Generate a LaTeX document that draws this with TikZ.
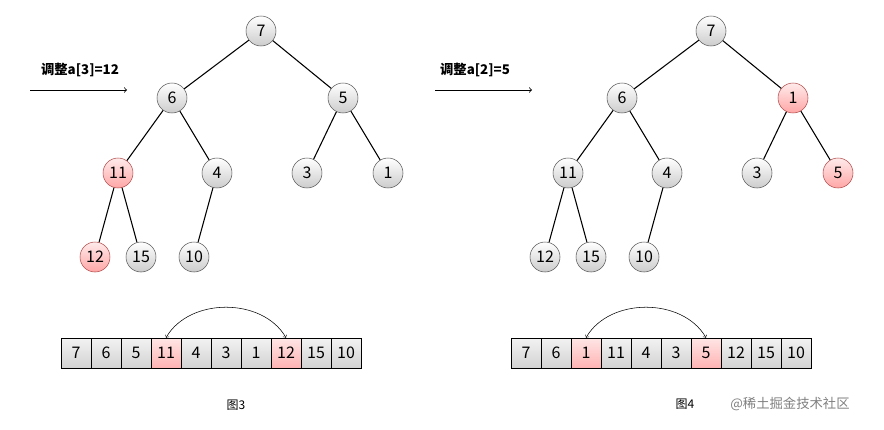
\documentclass[tikz,border=0pt]{standalone}
\usepackage{fontspec}
\setmainfont{Noto Sans CJK SC}
\usetikzlibrary{positioning}

\tikzset{
    key/.style={circle, draw=gray!70!black, top color=white, bottom color=gray!40, minimum size=30*0.75pt, inner sep=0pt, font=\large},
    hot/.style={key, top color=red!8, bottom color=red!35, draw=red!40!gray},
    cell/.style={rectangle, draw=black, top color=gray!10, bottom color=gray!35, minimum width=30*0.75pt, minimum height=30*0.75pt, inner sep=0pt, font=\large},
    hotcell/.style={cell, top color=red!10, bottom color=red!30},
    edge/.style={thick},
}

\begin{document}
\begin{tikzpicture}[x=0.75pt, y=-0.75pt]
    \useasboundingbox (0,0) rectangle (884,429);

    % tree of picture 3
    \node[key] (a7) at (261,31) {7};
    \node[key] (a6) at (172,98) {6};
    \node[key] (a5) at (343,98) {5};
    \node[hot] (a11) at (118,173) {11};
    \node[key] (a4) at (217,173) {4};
    \node[key] (a3) at (307,173) {3};
    \node[key] (a1) at (388,173) {1};
    \node[hot] (a12) at (95,257) {12};
    \node[key] (a15) at (141,257) {15};
    \node[key] (a10) at (194,257) {10};
    \foreach \p/\c in {a7/a6, a7/a5, a6/a11, a6/a4, a5/a3, a5/a1, a11/a12, a11/a15, a4/a10}
        \draw[edge] (\p) -- (\c);

    % tree of picture 4
    \node[key] (b7) at (711,31) {7};
    \node[key] (b6) at (622,98) {6};
    \node[hot] (b1) at (793,98) {1};
    \node[key] (b11) at (568,173) {11};
    \node[key] (b4) at (667,173) {4};
    \node[key] (b3) at (757,173) {3};
    \node[hot] (b5) at (838,173) {5};
    \node[key] (b12) at (545,257) {12};
    \node[key] (b15) at (591,257) {15};
    \node[key] (b10) at (644,257) {10};
    \foreach \p/\c in {b7/b6, b7/b1, b6/b11, b6/b4, b1/b3, b1/b5, b11/b12, b11/b15, b4/b10}
        \draw[edge] (\p) -- (\c);

    % arrays
    \foreach \v [count=\i] in {7,6,5,11,4,3,1,12,15,10} {
        \ifnum\i=4 \def\st{hotcell}\else\ifnum\i=8 \def\st{hotcell}\else\def\st{cell}\fi\fi
        \node[\st] (l\i) at (46+30*\i,353) {\v};
    }
    \foreach \v [count=\i] in {7,6,1,11,4,3,5,12,15,10} {
        \ifnum\i=3 \def\st{hotcell}\else\ifnum\i=7 \def\st{hotcell}\else\def\st{cell}\fi\fi
        \node[\st] (r\i) at (496+30*\i,353) {\v};
    }
    \draw[<->] (l4.north) to[out=60, in=120] (l8.north);
    \draw[<->] (r3.north) to[out=60, in=120] (r7.north);

    % labels
    \node[font=\bfseries] (adj3) at (80,70) {调整a[3]=12};
    \coordinate (s3) at (30,90);
    \coordinate (e3) at (127,90);
    \draw[semithick,->] (s3) -- (e3);
    \node[font=\bfseries] (adj4) at (475,70) {调整a[2]=5};
    \coordinate (s4) at (435,90);
    \coordinate (e4) at (532,90);
    \draw[semithick,->] (s4) -- (e4);

    \node[font=\small] (cap3) at (236,405) {图3};
    \node[font=\small] (cap4) at (685,404) {图4};
    \node[text=gray] (mark) at (790,404) {@稀土掘金技术社区};
\end{tikzpicture}
\end{document}
